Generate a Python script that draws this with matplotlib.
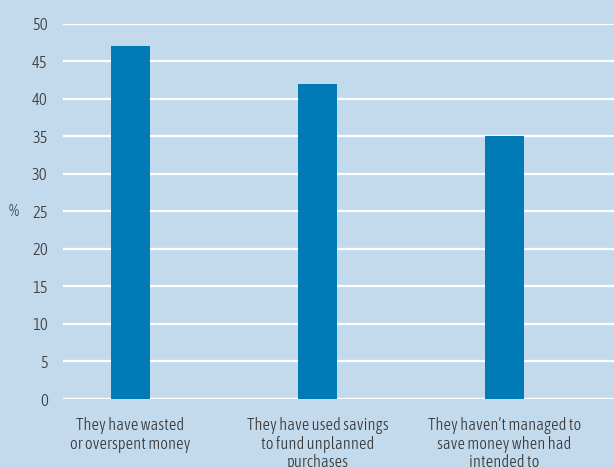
import matplotlib
matplotlib.use('Agg')
import matplotlib.pyplot as plt

# Share of respondents reporting each outcome
categories = ['They have wasted\nor overspent money',
              'They have used savings\nto fund unplanned\npurchases',
              'They haven\u2019t managed to\nsave money when had\nintended to']
values = [47, 42, 35]
yticks = [0, 5, 10, 15, 20, 25, 30, 35, 40, 45, 50]

bg = '#c3daed'
bar_color = '#007bb6'
text_color = '#3a3a3a'

plt.rcParams['font.family'] = ['Asap Condensed', 'DejaVu Sans']
plt.rcParams['font.weight'] = 300

fig = plt.figure(figsize=(6.14, 4.67), dpi=100, facecolor=bg)
ax = fig.add_axes([63 / 614, 1 - 399 / 467, 1 - 63 / 614, (399 - 23.5) / 467])
ax.set_facecolor(bg)

x = list(range(len(categories)))
ax.bar(x, values, width=0.209, color=bar_color, zorder=3)

ax.set_xlim(-0.361, 2.586)
ax.set_ylim(0, 50)
ax.set_yticks(yticks)
ax.set_xticks(x)
ax.set_xticklabels(categories, fontsize=12, color=text_color, linespacing=1.12)
ax.tick_params(axis='y', length=0, pad=11, labelsize=12, labelcolor=text_color)
ax.tick_params(axis='x', length=0, pad=13)

ax.yaxis.grid(True, color='white', linewidth=1.6, zorder=1)
ax.set_axisbelow(True)
for s in ax.spines.values():
    s.set_visible(False)
ax.axhline(0, color='white', linewidth=1.6, zorder=2)

fig.text(14 / 614, 1 - 212 / 467, '%', fontsize=12, color=text_color,
         ha='center', va='center')

fig.savefig('out.png', dpi=100, facecolor=bg)
